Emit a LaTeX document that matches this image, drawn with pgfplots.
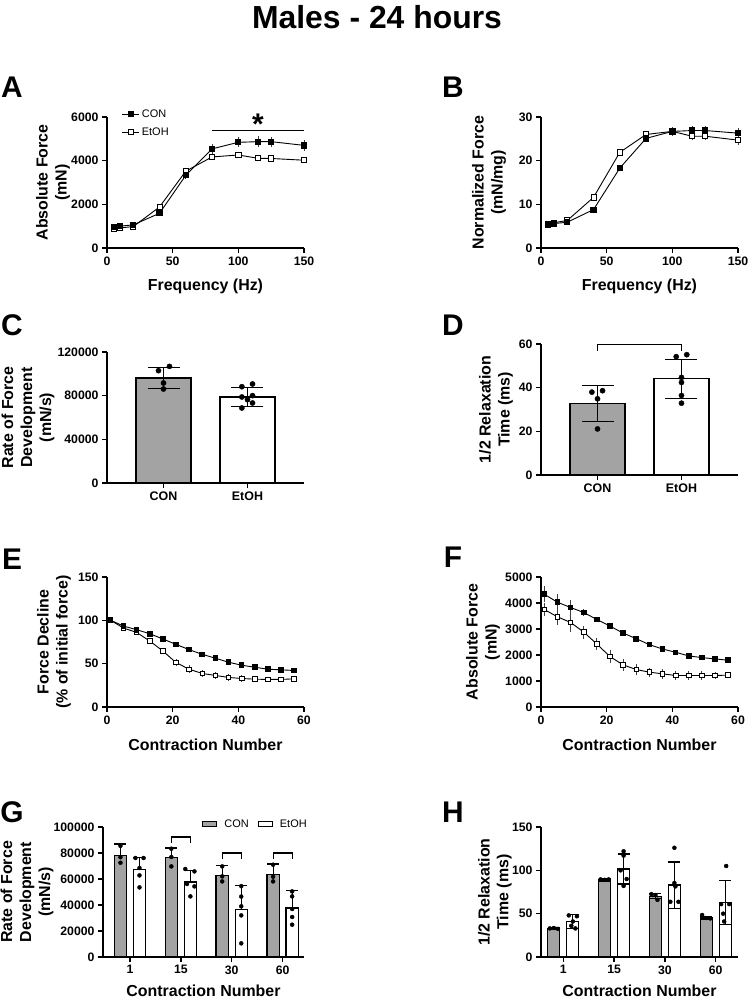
\documentclass[border=0pt]{standalone}
\usepackage{pgfplots}
\pgfplotsset{compat=1.18}
\usepackage{fontspec}
\setmainfont{Liberation Sans}
\definecolor{bargray}{RGB}{163,163,163}
\newcommand{\tickfont}{\bfseries\fontsize{12.3}{14}\selectfont}
\newcommand{\catfont}{\bfseries\fontsize{12.5}{14}\selectfont}
\newcommand{\labfont}{\bfseries\fontsize{16}{19}\selectfont}
\newcommand{\legfont}{\fontsize{11}{12}\selectfont}
\newcommand{\panfont}{\bfseries\fontsize{30}{30}\selectfont}
\pgfplotsset{
 gp/.style={
  scale only axis,
  axis lines=left,
  axis line style={line width=1.3bp,-},
  tick align=outside,
  major tick length=5bp,
  tick style={line width=1.3bp,black},
  minor tick num=0,
  ticklabel style={font=\tickfont},
  /pgf/number format/assume math mode=true,
  /pgf/number format/fixed,
  /pgf/number format/1000 sep={},
  scaled ticks=false,
  clip=false,
  xlabel style={font=\labfont},
  ylabel style={font=\labfont,align=center},
 },
 lineplot/.style={gp, width=197bp, xmin=0, xmax=150, xtick={0,50,100,150}, xlabel={Frequency (Hz)},
   xlabel style={at={(axis description cs:0.5,-0.29)},anchor=center}},
 errl/.style={error bars/.cd, y dir=both, y explicit, error mark=none, error bar style={line width=0.8bp,black!75}},
 con/.style={black, line width=0.9bp, mark=square*, mark size=2.6bp, mark options={fill=black,solid}},
 etoh/.style={black, line width=0.9bp, mark=square*, mark size=2.6bp, mark options={fill=white,solid,line width=0.8bp}},
 gbar/.style={ybar, bar shift=0pt, fill=bargray, draw=black, line width=1.2bp},
 wbar/.style={ybar, bar shift=0pt, fill=white, draw=black, line width=1.2bp},
 dots/.style={only marks, mark=*, mark size=#1, mark options={fill=black,draw=black}, forget plot},
 dots/.default=2.6bp,
 ebar/.style={error bars/.cd, y explicit, y dir=#1, error mark=|, error bar style={line width=1.1bp,black}, error mark options={line width=1.1bp,black,mark size=16bp}},
 ebars/.style={error bars/.cd, y explicit, y dir=#1, error mark=|, error bar style={line width=1.1bp,black}, error mark options={line width=1.1bp,black,mark size=6bp}},
}
\begin{document}
\begin{tikzpicture}
\useasboundingbox (0,0) rectangle (749bp,999bp);
\node[font=\bfseries\fontsize{32}{32}\selectfont] at (377bp,982bp) {Males - 24 hours};
\node[font=\panfont] at (12bp,912bp) {A};
\node[font=\panfont] at (453bp,912bp) {B};
\node[font=\panfont] at (12bp,674bp) {C};
\node[font=\panfont] at (453bp,674bp) {D};
\node[font=\panfont] at (12bp,440bp) {E};
\node[font=\panfont] at (453bp,442bp) {F};
\node[font=\panfont] at (12bp,187bp) {G};
\node[font=\panfont] at (453bp,187bp) {H};

% ---------- A ----------
\begin{axis}[lineplot, at={(107bp,751bp)}, anchor=south west, height=131bp,
  ymin=0, ymax=6000, ytick={0,2000,4000,6000},
  ylabel={Absolute Force\\(mN)}, ylabel style={at={(axis description cs:-0.274,0.5)},anchor=center},
  reverse legend,
  legend style={at={(axis description cs:0.075,1.074)}, anchor=north west, draw=none, fill=none,
    font=\legfont, inner sep=0pt, row sep=5bp, cells={anchor=west}}]
\addplot[etoh, errl] table[y error index=2] {
5 880 60
10 920 60
20 980 60
40 1880 100
60 3520 80
80 4170 80
100 4260 100
115 4110 80
125 4100 80
150 4020 130
};
\addlegendentry{EtOH}
\addplot[con, errl] table[y error index=2] {
5 960 80
10 1000 80
20 1060 80
40 1590 100
60 3330 150
80 4540 230
100 4840 230
115 4870 250
125 4870 230
150 4700 250
};
\addlegendentry{CON}
\addplot[black, line width=1.3bp, forget plot] coordinates {(80,5393) (150,5393)};
\node[font=\bfseries\fontsize{30}{30}\selectfont] at (axis cs:115,5650) {*};
\end{axis}

% ---------- B ----------
\begin{axis}[lineplot, at={(541bp,751bp)}, anchor=south west, height=131bp,
  ymin=0, ymax=30, ytick={0,10,20,30},
  ylabel={Normalized Force\\(mN/mg)}, ylabel style={at={(axis description cs:-0.264,0.5)},anchor=center}]
\addplot[etoh, errl] table[y error index=2] {
5 5.6 0.3
10 5.8 0.3
20 6.3 0.3
40 11.6 0.8
60 21.9 0.6
80 26.0 0.5
100 26.7 0.9
115 25.6 0.9
125 25.6 0.8
150 24.7 1.0
};
\addplot[con, errl] table[y error index=2] {
5 5.4 0.4
10 5.6 0.4
20 5.9 0.4
40 8.8 0.5
60 18.3 0.6
80 25.1 0.9
100 26.7 1.0
115 26.9 1.1
125 26.9 1.0
150 26.3 1.2
};
\end{axis}

% ---------- C ----------
\begin{axis}[gp, at={(107bp,516bp)}, anchor=south west, width=197bp, height=131bp,
  xmin=-0.673, xmax=1.673, ymin=0, ymax=120000, ytick={0,40000,80000,120000},
  xtick={0,1}, xticklabels={CON,EtOH}, xticklabel style={font=\catfont},
  ylabel={Rate of Force\\Development\\(mN/s)}, ylabel style={at={(axis description cs:-0.401,0.5)},anchor=center}]
\addplot[gbar, bar width=0.655, ebar=both] coordinates {(0,96170) +- (0,9780)};
\addplot[wbar, bar width=0.655, ebar=both] coordinates {(1,78770) +- (0,8860)};
\addplot[dots] coordinates {(-0.06,102900) (0.071,106800) (0,91600) (0,86100)
  (0.933,88200) (1.06,90700) (0.933,78800) (1.06,80000) (1,76300) (0.933,68700) (1.06,73300)};
\end{axis}

% ---------- D ----------
\begin{axis}[gp, at={(541bp,524bp)}, anchor=south west, width=197bp, height=131bp,
  xmin=-0.673, xmax=1.673, ymin=0, ymax=60, ytick={0,20,40,60},
  xtick={0,1}, xticklabels={CON,EtOH}, xticklabel style={font=\catfont},
  ylabel={1/2 Relaxation\\Time (ms)}, ylabel style={at={(axis description cs:-0.228,0.5)},anchor=center}]
\addplot[gbar, bar width=0.655, ebar=both] coordinates {(0,32.9) +- (0,8.2)};
\addplot[wbar, bar width=0.655, ebar=both] coordinates {(1,44.1) +- (0,9.0)};
\addplot[dots] coordinates {(-0.067,37.96) (0.06,38.6) (0,34.9) (0,21.1)
  (0.937,54.2) (1.063,55.1) (1,44.7) (1,42.4) (1,36.4) (1,32.9)};
\addplot[black, line width=1.2bp, forget plot] coordinates {(0,56.9) (0,59.7) (1,59.7) (1,56.9)};
\end{axis}

% ---------- E ----------
\begin{axis}[gp, at={(107bp,292bp)}, anchor=south west, width=197bp, height=130bp,
  xmin=0, xmax=60, xtick={0,20,40,60}, ymin=0, ymax=150, ytick={0,50,100,150},
  xlabel={Contraction Number}, xlabel style={at={(axis description cs:0.5,-0.292)},anchor=center},
  ylabel={Force Decline\\(\% of initial force)}, ylabel style={at={(axis description cs:-0.269,0.5)},anchor=center}]
\addplot[etoh, mark size=2.3bp, errl] table[y error index=2] {
1 100.3 0.5
5 91.1 2
9 86.1 2
13 76.2 2
17 64.7 3
21 51.3 4
25 43.6 4.5
29 38.7 4.5
33 36.4 4.5
37 34.1 4
41 32.9 3.5
45 32.1 3
49 31.8 3
53 31.8 2.5
57 32.5 2.5
};
\addplot[con, mark size=2.3bp, errl] table[y error index=2] {
1 100.3 0.5
5 93.4 1
9 89.2 1
13 84.6 1.2
17 78.5 1.2
21 72.3 1.5
25 66.2 1.5
29 60.8 1.5
33 56.3 1.5
37 51.7 1.5
41 48.2 1.5
45 45.9 1.5
49 43.6 1.5
53 42.9 1.5
57 42.1 1.5
};
\end{axis}

% ---------- F ----------
\begin{axis}[gp, at={(541bp,292bp)}, anchor=south west, width=197bp, height=130bp,
  xmin=0, xmax=60, xtick={0,20,40,60}, ymin=0, ymax=5000, ytick={0,1000,2000,3000,4000,5000},
  xlabel={Contraction Number}, xlabel style={at={(axis description cs:0.5,-0.292)},anchor=center},
  ylabel={Absolute Force\\(mN)}, ylabel style={at={(axis description cs:-0.294,0.5)},anchor=center}]
\addplot[etoh, mark size=2.3bp, errl] table[y error index=2] {
1 3750 250
5 3469 300
9 3252 380
13 2883 250
17 2423 220
21 1939 250
25 1620 220
29 1441 200
33 1339 180
37 1276 180
41 1212 170
45 1212 170
49 1212 160
53 1212 130
57 1225 100
};
\addplot[con, mark size=2.3bp, errl] table[y error index=2] {
1 4337 300
5 4030 300
9 3827 280
13 3635 150
17 3367 100
21 3112 100
25 2844 100
29 2628 80
33 2398 80
37 2232 80
41 2105 80
45 1964 80
49 1900 80
53 1850 80
57 1798 80
};
\end{axis}

% ---------- G ----------
\begin{axis}[gp, at={(103bp,42bp)}, anchor=south west, width=201bp, height=130bp,
  xmin=-0.53, xmax=3.42, ymin=0, ymax=100000, ytick={0,20000,40000,60000,80000,100000},
  xtick={0,1,2,3}, xticklabels={1,15,30,60},
  xlabel={Contraction Number}, xlabel style={at={(axis description cs:0.5,-0.262)},anchor=center},
  ylabel={Rate of Force\\Development\\(mN/s)}, ylabel style={at={(axis description cs:-0.378,0.5)},anchor=center},
  legend columns=2,
  legend image code/.code={\draw[#1, line width=1.2bp] (0bp,-2.5bp) rectangle (14bp,2.5bp);},
  legend style={at={(axis description cs:0.4925,1.023)}, anchor=west, draw=none, fill=none,
    font=\legfont, inner sep=0pt,
    /tikz/every odd column/.append style={column sep=5bp},
    /tikz/every even column/.append style={column sep=7bp}}]
\addplot[gbar, bar width=0.242, ebars=plus] coordinates {
 (-0.187,78200) +- (0,8700)
 (0.813,76380) +- (0,7460)
 (1.813,62770) +- (0,7690)
 (2.813,63300) +- (0,8240)};
\addlegendentry{CON}
\addplot[wbar, bar width=0.242, ebars=plus] coordinates {
 (0.187,67150) +- (0,9450)
 (1.187,57690) +- (0,8690)
 (2.187,36380) +- (0,18470)
 (3.187,37690) +- (0,13310)};
\addlegendentry{EtOH}
\addplot[dots=2bp] coordinates {
 (-0.187,85500) (-0.187,76800) (-0.187,72500)
 (0.107,76150) (0.267,76150) (0.187,68460) (0.187,62770) (0.187,53540)
 (0.813,83300) (0.813,76900) (0.813,69700)
 (1.087,67690) (1.267,65850) (1.121,56150) (1.267,54310) (1.187,46620)
 (1.813,69700) (1.813,62000) (1.813,58150)
 (2.187,54500) (2.187,46500) (2.187,39000) (2.187,32000) (2.187,10500)
 (2.813,71000) (2.813,61770) (2.813,58150)
 (3.187,50460) (3.187,46620) (3.187,36920) (3.187,30770) (3.187,24850)};
\addplot[black, line width=1.2bp, forget plot] coordinates {(0.813,87700) (0.813,92300) (1.187,92300) (1.187,87700)};
\addplot[black, line width=1.2bp, forget plot] coordinates {(1.813,75600) (1.813,80000) (2.187,80000) (2.187,75600)};
\addplot[black, line width=1.2bp, forget plot] coordinates {(2.813,75600) (2.813,80000) (3.187,80000) (3.187,75600)};
\end{axis}

% ---------- H ----------
\begin{axis}[gp, at={(541bp,42bp)}, anchor=south west, width=197bp, height=130bp,
  xmin=-0.44, xmax=3.44, ymin=0, ymax=150, ytick={0,50,100,150},
  xtick={0,1,2,3}, xticklabels={1,15,30,60},
  xlabel={Contraction Number}, xlabel style={at={(axis description cs:0.5,-0.262)},anchor=center},
  ylabel={1/2 Relaxation\\Time (ms)}, ylabel style={at={(axis description cs:-0.234,0.5)},anchor=center}]
\addplot[gbar, bar width=0.237, ebars=both] coordinates {
 (-0.187,32.7) +- (0,1)
 (0.813,88.8) +- (0,1.5)
 (1.813,70) +- (0,3)
 (2.813,45) +- (0,2)};
\addplot[wbar, bar width=0.237, ebars=both] coordinates {
 (0.187,41.1) +- (0,7.7)
 (1.187,101.5) +- (0,17.3)
 (2.187,83) +- (0,26.6)
 (3.187,63) +- (0,25)};
\addplot[dots=2bp] coordinates {
 (-0.267,33) (-0.187,33.5) (-0.107,32.5)
 (0.107,48) (0.267,47) (0.187,41) (0.157,36) (0.237,33)
 (0.733,89.5) (0.813,89) (0.893,89.5)
 (1.187,122) (1.187,117) (1.127,100) (1.247,90) (1.187,82)
 (1.733,72.5) (1.813,71.5) (1.853,66)
 (2.187,126) (2.187,85.4) (2.207,81.5) (2.107,63.7) (2.267,63.7)
 (2.733,48.5) (2.813,45) (2.893,44.5)
 (3.207,105) (3.107,61) (3.267,61) (3.147,50) (3.167,41)};
\end{axis}
\end{tikzpicture}
\end{document}
